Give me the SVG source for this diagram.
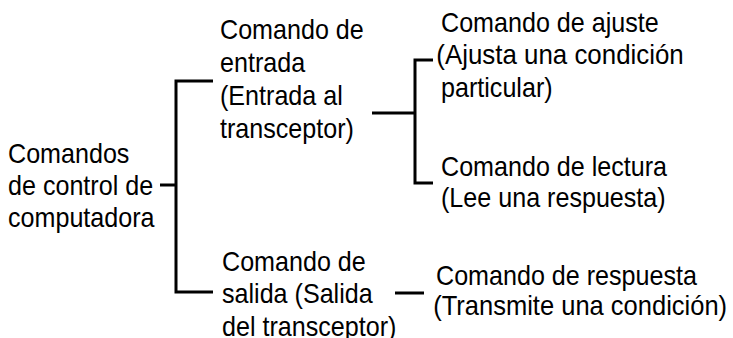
<svg xmlns="http://www.w3.org/2000/svg" width="733" height="338" viewBox="0 0 733 338">
<style>
text{font-family:"Liberation Sans",Arial,sans-serif;font-size:27px;fill:#000}
.c{fill:none;stroke:#000;stroke-width:3}
</style>
<rect width="733" height="338" fill="#fff"/>
<g id="connectors">
<path class="c" d="M160,185 H176"/>
<path class="c" d="M213,81 H176 V292 H213"/>
<path class="c" d="M372,113 H415"/>
<path class="c" d="M433,60 H415 V183 H433"/>
<path class="c" d="M395,293 H424"/>
</g>
<g id="root" transform="translate(8,0) scale(0.93,1)">
<text x="0" y="163">Comandos</text>
<text x="0" y="195">de control de</text>
<text x="0" y="227">computadora</text>
</g>
<g id="entrada" transform="translate(220,0) scale(0.93,1)">
<text x="0" y="39">Comando de</text>
<text x="0" y="72">entrada</text>
<text x="0" y="105">(Entrada al</text>
<text x="0" y="138">transceptor)</text>
</g>
<g id="salida" transform="translate(222,0) scale(0.93,1)">
<text x="0" y="271">Comando de</text>
<text x="0" y="303">salida (Salida</text>
<text x="0" y="336">del transceptor)</text>
</g>
<g id="ajuste" transform="translate(441,0) scale(0.93,1)">
<text x="0" y="32">Comando de ajuste</text>
<text x="-5" y="64" textLength="266" lengthAdjust="spacingAndGlyphs">(Ajusta una condición</text>
<text x="0" y="97">particular)</text>
</g>
<g id="lectura" transform="translate(441,0) scale(0.93,1)">
<text x="0" y="176">Comando de lectura</text>
<text x="0" y="207">(Lee una respuesta)</text>
</g>
<g id="respuesta" transform="translate(436,0) scale(0.93,1)">
<text x="0" y="285">Comando de respuesta</text>
<text x="-3" y="315" textLength="316" lengthAdjust="spacingAndGlyphs">(Transmite una condición)</text>
</g>
</svg>
